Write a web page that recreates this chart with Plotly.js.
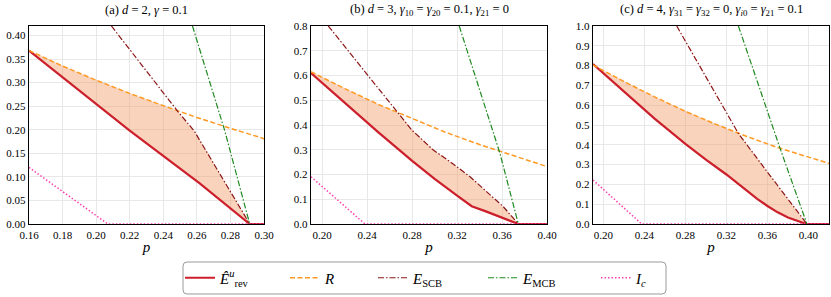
<!DOCTYPE html>
<html>
<head>
<meta charset="utf-8">
<script src="https://cdn.plot.ly/plotly-3.0.1.min.js"></script>
<style>html,body{margin:0;padding:0;background:#fff;}#chart{width:831px;height:297px;}</style>
</head>
<body>
<div id="chart"></div>
<script>
// ---------- Data ----------
// Panel (a): d = 2, gamma = 0.1
const aE_p   = [0.16, 0.22, 0.2617, 0.2915, 0.30];
const aE_v   = [0.368, 0.198, 0.086, 0.0, 0.0];
const aR_p   = [0.16, 0.18, 0.20, 0.22, 0.24, 0.26, 0.28, 0.30];
const aR_v   = [0.368, 0.335, 0.305, 0.277, 0.251, 0.226, 0.203, 0.181];
const aSCB_p = [0.2091, 0.2488, 0.2583, 0.2915];
const aSCB_v = [0.42, 0.238, 0.198, 0.0];
const aMCB_p = [0.2574, 0.2766, 0.2915];
const aMCB_v = [0.42, 0.198, 0.0];
const aIc_p  = [0.16, 0.207, 0.30];
const aIc_v  = [0.12, 0.0, 0.0];

// Panel (b): d = 3
const bE_p   = [0.19, 0.22, 0.25, 0.28, 0.30, 0.32, 0.333, 0.345, 0.3745, 0.40];
const bE_v   = [0.61, 0.49, 0.37, 0.255, 0.182, 0.115, 0.072, 0.052, 0.0, 0.0];
const bR_p   = [0.19, 0.22, 0.25, 0.28, 0.31, 0.34, 0.37, 0.40];
const bR_v   = [0.615, 0.547, 0.483, 0.425, 0.370, 0.321, 0.276, 0.232];
const bSCB_p = [0.2054, 0.2677, 0.2796, 0.2988, 0.3137, 0.3315, 0.3463, 0.3611, 0.3745];
const bSCB_v = [0.80, 0.447, 0.38, 0.299, 0.252, 0.191, 0.130, 0.070, 0.0];
const bMCB_p = [0.3219, 0.3581, 0.3745];
const bMCB_v = [0.80, 0.286, 0.0];
const bIc_p  = [0.19, 0.238, 0.40];
const bIc_v  = [0.191, 0.0, 0.0];

// Panel (c): d = 4
const cE_p   = [0.19, 0.22, 0.25, 0.28, 0.30, 0.32, 0.34, 0.35, 0.36, 0.37, 0.38, 0.39, 0.398, 0.42];
const cE_v   = [0.808, 0.668, 0.532, 0.405, 0.325, 0.25, 0.168, 0.127, 0.091, 0.059, 0.033, 0.013, 0.0, 0.0];
const cR_p   = [0.19, 0.22, 0.25, 0.28, 0.31, 0.34, 0.37, 0.40, 0.42];
const cR_v   = [0.803, 0.720, 0.642, 0.569, 0.503, 0.442, 0.386, 0.336, 0.306];
const cSCB_p = [0.2716, 0.30, 0.3316, 0.36, 0.3985];
const cSCB_v = [1.0, 0.745, 0.458, 0.262, 0.0];
const cMCB_p = [0.3317, 0.3723, 0.3985];
const cMCB_v = [1.0, 0.382, 0.0];
const cIc_p  = [0.19, 0.2375, 0.42];
const cIc_v  = [0.222, 0.0, 0.0];

// Axis ticks
const aXticks = [0.16, 0.18, 0.20, 0.22, 0.24, 0.26, 0.28, 0.30];
const aYticks = [0.00, 0.05, 0.10, 0.15, 0.20, 0.25, 0.30, 0.35, 0.40];
const bXticks = [0.20, 0.24, 0.28, 0.32, 0.36, 0.40];
const bYticks = [0.0, 0.1, 0.2, 0.3, 0.4, 0.5, 0.6, 0.7, 0.8];
const cXticks = [0.20, 0.24, 0.28, 0.32, 0.36, 0.40];
const cYticks = [0.0, 0.1, 0.2, 0.3, 0.4, 0.5, 0.6, 0.7, 0.8, 0.9, 1.0];

const titles = [
  "(a) <i>d</i> = 2, <i>γ</i> = 0.1",
  "(b) <i>d</i> = 3, <i>γ</i><sub>10</sub> = <i>γ</i><sub>20</sub> = 0.1, <i>γ</i><sub>21</sub> = 0",
  "(c) <i>d</i> = 4, <i>γ</i><sub>31</sub> = <i>γ</i><sub>32</sub> = 0, <i>γ</i><sub><i>i</i>0</sub> = <i>γ</i><sub>21</sub> = 0.1"
];
const names = ["<i>Ê</i><sup><i>u</i></sup><sub>rev</sub>", "<i>R</i>", "<i>E</i><sub>SCB</sub>", "<i>E</i><sub>MCB</sub>", "<i>I<sub>c</sub></i>"];

// ---------- Styling ----------
const FONT = "Liberation Serif";
const colE = "#cc1f2c", colR = "#ff9922", colSCB = "#8b1515", colMCB = "#1f8a1f", colIc = "#ff3fb0";
const fillCol = "rgba(242,150,95,0.42)";

function interp(px, py, x) {
  if (x < px[0] || x > px[px.length - 1]) return Infinity;
  for (let i = 0; i < px.length - 1; i++) {
    if (x >= px[i] && x <= px[i + 1]) {
      const t = (x - px[i]) / (px[i + 1] - px[i]);
      return py[i] + t * (py[i + 1] - py[i]);
    }
  }
  return Infinity;
}

function fillPoly(E_p, E_v, uppers) {
  const end = E_p[E_v.indexOf(0)];
  const start = E_p[0];
  const xs = [];
  const n = 400;
  for (let i = 0; i <= n; i++) xs.push(start + (end - start) * i / n);
  const up = xs.map(x => {
    let m = Infinity;
    uppers.forEach(u => { m = Math.min(m, interp(u[0], u[1], x)); });
    return Math.max(m, interp(E_p, E_v, x));
  });
  const lo = xs.map(x => interp(E_p, E_v, x));
  return { x: xs.concat(xs.slice().reverse()), y: up.concat(lo.slice().reverse()) };
}

const panels = [
  {E:[aE_p,aE_v], R:[aR_p,aR_v], S:[aSCB_p,aSCB_v], M:[aMCB_p,aMCB_v], I:[aIc_p,aIc_v]},
  {E:[bE_p,bE_v], R:[bR_p,bR_v], S:[bSCB_p,bSCB_v], M:[bMCB_p,bMCB_v], I:[bIc_p,bIc_v]},
  {E:[cE_p,cE_v], R:[cR_p,cR_v], S:[cSCB_p,cSCB_v], M:[cMCB_p,cMCB_v], I:[cIc_p,cIc_v]}
];
const legIds = ["legend", "legend2", "legend3", "legend4", "legend5"];

const traces = [];
panels.forEach((P, k) => {
  const xa = k === 0 ? "x" : "x" + (k + 1);
  const ya = k === 0 ? "y" : "y" + (k + 1);
  const poly = fillPoly(P.E[0], P.E[1], [P.R, P.S, P.M]);
  traces.push({x: poly.x, y: poly.y, xaxis: xa, yaxis: ya, mode: "lines", fill: "toself",
               fillcolor: fillCol, line: {width: 0}, showlegend: false, hoverinfo: "skip"});
  const leg = k === 0;
  const specs = [
    [P.E, {color: colE, width: 2.2}],
    [P.R, {color: colR, width: 1.5, dash: "5px,2.5px"}],
    [P.S, {color: colSCB, width: 1.2, dash: "6px,2px,1.5px,2px"}],
    [P.M, {color: colMCB, width: 1.2, dash: "6px,2px,1.5px,2px"}],
    [P.I, {color: colIc, width: 1.5, dash: "1.5px,2px"}]
  ];
  specs.forEach((s, j) => {
    traces.push({x: s[0][0], y: s[0][1], xaxis: xa, yaxis: ya, mode: "lines", name: names[j],
                 showlegend: leg, legend: legIds[j], line: s[1]});
  });
});

function xaxis(domain, range, ticks) {
  return {domain: domain, range: range, tickvals: ticks, ticktext: ticks.map(t => t.toFixed(2)),
          showgrid: true, gridcolor: "#e2e2e2", gridwidth: 0.8, zeroline: false,
          showline: true, linecolor: "#000", linewidth: 1.3, mirror: true, ticks: "",
          tickfont: {family: FONT, size: 11, color: "#000"},
          title: {text: "<i>p</i>", font: {family: FONT, size: 15, color: "#000"}, standoff: 2}};
}
function yaxis(domain, range, ticks, dec, anchor) {
  return {domain: domain, range: range, tickvals: ticks, ticktext: ticks.map(t => t.toFixed(dec)),
          anchor: anchor, showgrid: true, gridcolor: "#e2e2e2", gridwidth: 0.8, zeroline: false,
          showline: true, linecolor: "#000", linewidth: 1.3, mirror: true, ticks: "",
          tickfont: {family: FONT, size: 11, color: "#000"}};
}

const W = 831, H = 297, mL = 29, mR = 2, mT = 26, mB = 73;
const pw = W - mL - mR, ph = H - mT - mB;
const dA = [0, (264 - mL) / pw], dB = [(311 - mL) / pw, (547 - mL) / pw], dC = [(593 - mL) / pw, 1];
const px2x = v => (v - mL) / pw;
const px2y = v => (H - mB - v) / ph;

const annotations = titles.map((t, k) => {
  const d = [dA, dB, dC][k];
  return {text: t, xref: "paper", yref: "paper", x: (d[0] + d[1]) / 2, y: 1, yshift: 16,
          xanchor: "center", yanchor: "middle", showarrow: false,
          font: {family: FONT, size: 12.5, color: "#000"}};
});

// legend frame (rounded rectangle)
const bx0 = px2x(183), bx1 = px2x(666), by0 = px2y(294), by1 = px2y(262);
const rx = 4 / pw, ry = 4 / ph;
const framePath = `M ${bx0 + rx},${by1} L ${bx1 - rx},${by1} Q ${bx1},${by1} ${bx1},${by1 - ry} ` +
  `L ${bx1},${by0 + ry} Q ${bx1},${by0} ${bx1 - rx},${by0} L ${bx0 + rx},${by0} ` +
  `Q ${bx0},${by0} ${bx0},${by0 + ry} L ${bx0},${by1 - ry} Q ${bx0},${by1} ${bx0 + rx},${by1} Z`;

const layout = {
  width: W, height: H, margin: {l: mL, r: mR, t: mT, b: mB},
  paper_bgcolor: "#fff", plot_bgcolor: "#fff",
  font: {family: FONT, color: "#000"},
  xaxis: xaxis(dA, [0.16, 0.30], aXticks),
  yaxis: yaxis([0, 1], [0, 0.42], aYticks, 2, "x"),
  xaxis2: xaxis(dB, [0.19, 0.40], bXticks),
  yaxis2: yaxis([0, 1], [0, 0.8], bYticks, 1, "x2"),
  xaxis3: xaxis(dC, [0.19, 0.42], cXticks),
  yaxis3: yaxis([0, 1], [0, 1.0], cYticks, 1, "x3"),
  annotations: annotations,
  shapes: [{type: "path", xref: "paper", yref: "paper", path: framePath,
            line: {color: "#9a9a9a", width: 1}, fillcolor: "rgba(0,0,0,0)"}],
  showlegend: true
};
const sampleStarts = [187, 292, 380, 490, 603];
legIds.forEach((id, j) => {
  layout[id] = {orientation: "h", x: px2x(sampleStarts[j] - 7), xanchor: "left",
                y: px2y(278), yanchor: "middle", borderwidth: 0, bgcolor: "rgba(0,0,0,0)",
                font: {family: FONT, size: 15, color: "#000"}, itemwidth: 30};
});

Plotly.newPlot("chart", traces, layout, {displayModeBar: false, staticPlot: true});
</script>
</body>
</html>
